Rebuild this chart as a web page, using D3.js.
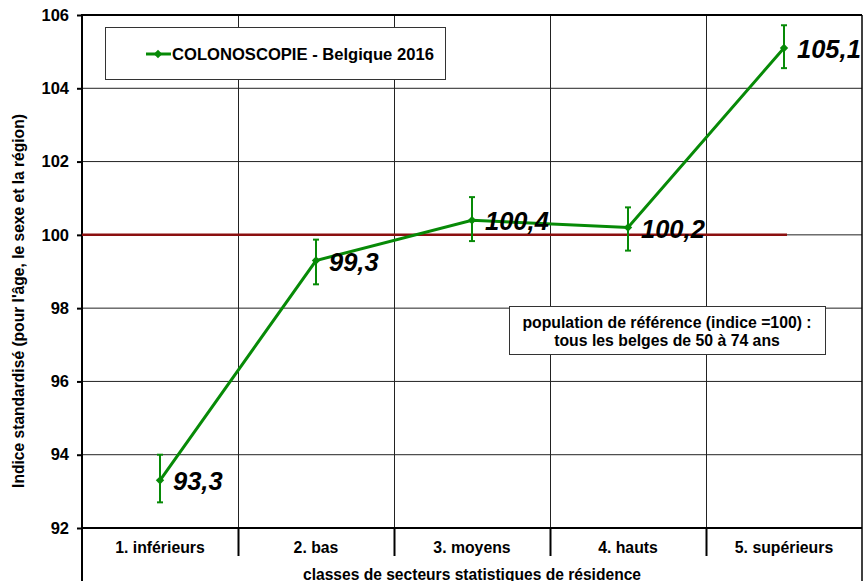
<!DOCTYPE html>
<html>
<head>
<meta charset="utf-8">
<script src="https://cdn.jsdelivr.net/npm/d3@7"></script>
<style>
  body { margin: 0; background: #fff; }
  svg { font-family: "Liberation Sans", Arial, sans-serif; }
</style>
</head>
<body>
<svg id="chart" width="865" height="581"></svg>
<script>
// data
let categories = ["1. inférieurs", "2. bas", "3. moyens", "4. hauts", "5. supérieurs"];
let values = [93.3, 99.3, 100.4, 100.2, 105.1];
let lower = [92.7, 98.65, 99.83, 99.57, 104.55];
let upper = [94.0, 99.87, 101.03, 100.75, 105.72];
let labels = ["93,3", "99,3", "100,4", "100,2", "105,1"];
let yTicks = [92, 94, 96, 98, 100, 102, 104, 106];
let refValue = 100;
let seriesName = "COLONOSCOPIE - Belgique 2016";

let chart = d3.select("#chart");
let green = "#078a07";

let plotLeft = 82, plotRight = 862, plotTop = 15, plotBottom = 528;

// x band scale for categories
let x = d3.scaleBand()
    .domain(categories)
    .range([plotLeft, plotRight]);

// y scale
let y = d3.scaleLinear()
    .domain([92, 106])
    .range([plotBottom, plotTop]);

// horizontal grid
chart.append("g")
    .selectAll("line")
    .data(yTicks.slice(1, -1))
    .enter()
    .append("line")
    .attr("x1", plotLeft).attr("x2", plotRight)
    .attr("y1", d => y(d)).attr("y2", d => y(d))
    .attr("stroke", "#222").attr("stroke-width", 1);

// vertical dividers (inside plot)
chart.append("g")
    .selectAll("line")
    .data(categories.slice(1))
    .enter()
    .append("line")
    .attr("x1", d => x(d) + 0.5).attr("x2", d => x(d) + 0.5)
    .attr("y1", plotTop).attr("y2", plotBottom)
    .attr("stroke", "#222").attr("stroke-width", 1);

// dividers in category strip
chart.append("g")
    .selectAll("line")
    .data(categories.slice(1))
    .enter()
    .append("line")
    .attr("x1", d => x(d) + 0.5).attr("x2", d => x(d) + 0.5)
    .attr("y1", plotBottom).attr("y2", plotBottom + 28)
    .attr("stroke", "#000").attr("stroke-width", 2);

// frame
chart.append("line").attr("x1", plotLeft).attr("x2", plotRight).attr("y1", plotTop).attr("y2", plotTop)
    .attr("stroke", "#000").attr("stroke-width", 2);
chart.append("line").attr("x1", plotLeft).attr("x2", plotRight).attr("y1", plotBottom).attr("y2", plotBottom)
    .attr("stroke", "#000").attr("stroke-width", 2);
chart.append("line").attr("x1", plotRight).attr("x2", plotRight).attr("y1", plotTop).attr("y2", 581)
    .attr("stroke", "#000").attr("stroke-width", 1.5);

// y axis
let yAxis = d3.axisLeft(y)
    .tickValues(yTicks)
    .tickSize(5)
    .tickPadding(8);
let yAxisGroup = chart.append("g")
    .attr("transform", "translate(" + plotLeft + ",0)")
    .call(yAxis);
yAxisGroup.select(".domain").remove();
yAxisGroup.selectAll("line").attr("stroke", "#000").attr("stroke-width", 2);
yAxisGroup.selectAll("text")
    .style("font-size", "16.5px")
    .style("font-weight", "bold")
    .style("font-family", "Liberation Sans, Arial, sans-serif")
    .attr("fill", "#000");
chart.append("line").attr("x1", plotLeft).attr("x2", plotLeft).attr("y1", plotTop - 1).attr("y2", 581)
    .attr("stroke", "#000").attr("stroke-width", 2);

// category labels
chart.selectAll("catlabels")
    .data(categories)
    .enter()
    .append("text")
    .attr("x", d => x(d) + x.bandwidth() / 2)
    .attr("y", 553)
    .attr("text-anchor", "middle")
    .style("font-size", "15.8px")
    .style("font-weight", "bold")
    .text(d => d);

// axis titles
chart.append("text")
    .attr("x", 472)
    .attr("y", 580)
    .attr("text-anchor", "middle")
    .style("font-size", "15.6px")
    .style("font-weight", "bold")
    .text("classes de secteurs statistiques de résidence");

chart.append("text")
    .attr("transform", "rotate(-90)")
    .attr("x", -301)
    .attr("y", 24)
    .attr("text-anchor", "middle")
    .style("font-size", "15.6px")
    .style("font-weight", "bold")
    .text("Indice standardisé (pour l'âge, le sexe et la région)");

// reference line at 100
chart.append("line")
    .attr("x1", plotLeft)
    .attr("x2", x(categories[4]) + x.bandwidth() / 2 + 3)
    .attr("y1", y(refValue)).attr("y2", y(refValue))
    .attr("stroke", "#8b0f0f").attr("stroke-width", 2.5);

// series line
let cx = (d, i) => x(categories[i]) + x.bandwidth() / 2;
chart.append("path")
    .datum(values)
    .attr("fill", "none")
    .attr("stroke", green)
    .attr("stroke-width", 3)
    .attr("d", d3.line()
        .x(cx)
        .y(d => y(d)));

// error bars
let eb = chart.append("g").attr("stroke", green).attr("stroke-width", 2);
values.forEach(function(v, i) {
    let px = cx(v, i);
    eb.append("line").attr("x1", px).attr("x2", px).attr("y1", y(lower[i])).attr("y2", y(upper[i]));
    eb.append("line").attr("x1", px - 3).attr("x2", px + 3).attr("y1", y(lower[i])).attr("y2", y(lower[i]));
    eb.append("line").attr("x1", px - 3).attr("x2", px + 3).attr("y1", y(upper[i])).attr("y2", y(upper[i]));
});

// markers
chart.selectAll("markers")
    .data(values)
    .enter()
    .append("path")
    .attr("transform", (d, i) => "translate(" + cx(d, i) + "," + y(d) + ")")
    .attr("d", d3.symbol().type(d3.symbolDiamond2).size(45))
    .attr("fill", green);

// value labels
chart.selectAll("vlabels")
    .data(values)
    .enter()
    .append("text")
    .attr("x", (d, i) => cx(d, i) + 13)
    .attr("y", d => y(d) + 10)
    .style("font-size", "25.5px")
    .style("font-weight", "bold")
    .style("font-style", "italic")
    .text((d, i) => labels[i]);

// legend
chart.append("rect")
    .attr("x", 105.5).attr("y", 27.5).attr("width", 340).attr("height", 52)
    .attr("fill", "#fff").attr("stroke", "#333").attr("stroke-width", 1);
chart.append("line")
    .attr("x1", 146).attr("x2", 171).attr("y1", 54).attr("y2", 54)
    .attr("stroke", green).attr("stroke-width", 3);
chart.append("path")
    .attr("transform", "translate(158,54)")
    .attr("d", d3.symbol().type(d3.symbolDiamond2).size(45))
    .attr("fill", green);
chart.append("text")
    .attr("x", 172).attr("y", 60)
    .style("font-size", "16.6px")
    .style("font-weight", "bold")
    .text(seriesName);

// reference note box
chart.append("rect")
    .attr("x", 509.5).attr("y", 306.5).attr("width", 316).attr("height", 48)
    .attr("fill", "#fff").attr("stroke", "#333").attr("stroke-width", 1);
chart.append("text")
    .attr("x", 667).attr("y", 328)
    .attr("text-anchor", "middle")
    .style("font-size", "15.8px")
    .style("font-weight", "bold")
    .text("population de référence (indice =100) :");
chart.append("text")
    .attr("x", 667).attr("y", 346)
    .attr("text-anchor", "middle")
    .style("font-size", "15.8px")
    .style("font-weight", "bold")
    .text("tous les belges de 50 à 74 ans");
</script>
</body>
</html>
